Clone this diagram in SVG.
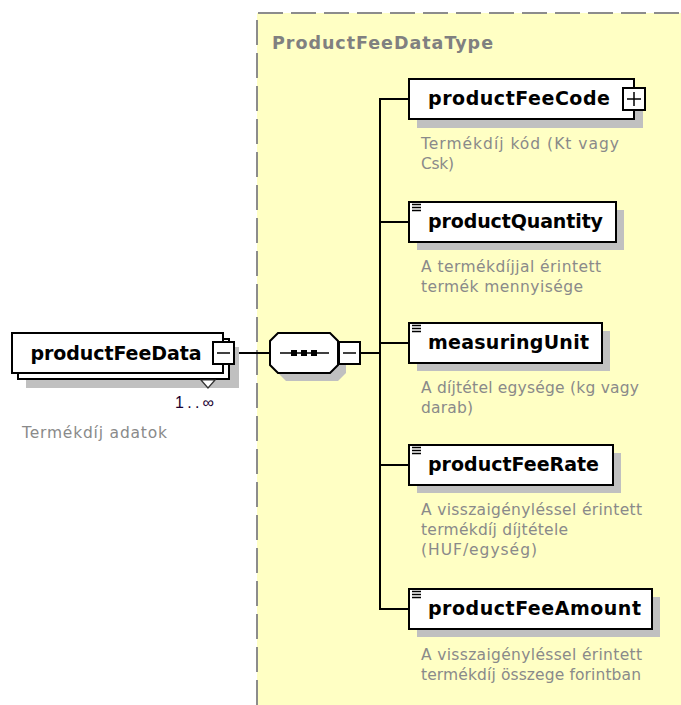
<svg xmlns="http://www.w3.org/2000/svg" width="681" height="705" viewBox="0 0 681 705">
<style>
.box{fill:#fff;stroke:#000;stroke-width:2}
.shadow{fill:#c0c0c0;stroke:none}
.btn{fill:#fff;stroke:#000;stroke-width:2}
.conn{stroke:#000;stroke-width:2;fill:none}
.lbl{font-family:"DejaVu Sans",sans-serif;font-weight:bold;font-size:19px;fill:#000}
.desc{font-family:"DejaVu Sans",sans-serif;font-size:15.5px;fill:#8a8a8a}
.icon{stroke:#000;stroke-width:1.5}
</style>
<rect x="0" y="0" width="681" height="705" fill="#fff"/>
<g id="type-area">
<rect x="257" y="13" width="430" height="700" fill="#ffffc4"/>
<path d="M257 705 V13 H681" fill="none" stroke="#8c8c8c" stroke-width="2" stroke-dasharray="25 8"/>
<text x="272" y="49" font-family="DejaVu Sans,sans-serif" font-weight="bold" font-size="17.5" fill="#808080" textLength="221">ProductFeeDataType</text>
</g>
<g id="connectors">
<line class="conn" x1="235" y1="353" x2="270" y2="353"/>
<line class="conn" x1="360" y1="353" x2="380" y2="353"/>
<line class="conn" x1="380" y1="99" x2="380" y2="610"/>
<line class="conn" x1="379" y1="99" x2="409" y2="99"/>
<line class="conn" x1="379" y1="222" x2="409" y2="222"/>
<line class="conn" x1="379" y1="343" x2="409" y2="343"/>
<line class="conn" x1="379" y1="465" x2="409" y2="465"/>
<line class="conn" x1="379" y1="609" x2="409" y2="609"/>
</g>
<g id="productFeeData">
<rect class="shadow" x="26" y="347" width="213" height="41"/>
<rect class="box" x="18" y="339" width="211" height="40"/>
<rect class="box" x="12" y="333" width="211" height="40"/>
<text class="lbl" x="116" y="360" text-anchor="middle" textLength="171">productFeeData</text>
<rect class="btn" x="213" y="342" width="21" height="22"/>
<line x1="217" y1="353" x2="230" y2="353" stroke="#000" stroke-width="1.5"/>
<polygon points="201,380 215,380 208,388" fill="#fff" stroke="#333" stroke-width="1.2"/>
<text x="175" y="408" font-family="Liberation Sans,sans-serif" font-size="16" fill="#1a0030" textLength="39">1..∞</text>
<text class="desc" x="22" y="438" textLength="145">Termékdíj adatok</text>
</g>
<g id="sequence">
<polygon class="shadow" points="286,341 338,341 346,349 346,373 338,381 286,381 278,373 278,349"/>
<polygon points="278,333 330,333 338,341 338,365 330,373 278,373 270,365 270,341" fill="#fff" stroke="#000" stroke-width="2"/>
<line x1="280" y1="353" x2="329" y2="353" stroke="#000" stroke-width="1.5"/>
<rect x="291" y="350" width="6" height="6" fill="#000"/>
<rect x="301" y="350" width="6" height="6" fill="#000"/>
<rect x="311" y="350" width="6" height="6" fill="#000"/>
<rect class="btn" x="339" y="342" width="21" height="22"/>
<line x1="343" y1="353" x2="356" y2="353" stroke="#000" stroke-width="1.5"/>
</g>
<g id="productFeeCode">
<rect class="shadow" x="417" y="87" width="226" height="41"/>
<rect class="box" x="409" y="79" width="225" height="40"/>
<text class="lbl" x="428" y="105" textLength="182">productFeeCode</text>
<rect class="btn" x="623" y="88" width="22" height="22"/>
<line x1="627" y1="99" x2="641" y2="99" stroke="#000" stroke-width="1.5"/>
<line x1="634" y1="92" x2="634" y2="106" stroke="#000" stroke-width="1.5"/>
<text class="desc" x="421" y="149" textLength="198">Termékdíj kód (Kt vagy</text>
<text class="desc" x="421" y="169" textLength="33">Csk)</text>
</g>
<g id="productQuantity">
<rect class="shadow" x="417" y="210" width="207" height="40"/>
<rect class="box" x="409" y="202" width="207" height="40"/>
<path class="icon" d="M412 204.5h9M412 207.5h9M412 210.5h9"/>
<text class="lbl" x="428" y="228" textLength="175">productQuantity</text>
<text class="desc" x="421" y="272" textLength="180">A termékdíjjal érintett</text>
<text class="desc" x="421" y="292" textLength="162">termék mennyisége</text>
</g>
<g id="measuringUnit">
<rect class="shadow" x="417" y="331" width="193" height="40"/>
<rect class="box" x="409" y="323" width="193" height="40"/>
<path class="icon" d="M412 325.5h9M412 328.5h9M412 331.5h9"/>
<text class="lbl" x="428" y="349" textLength="161">measuringUnit</text>
<text class="desc" x="421" y="393" textLength="218">A díjtétel egysége (kg vagy</text>
<text class="desc" x="421" y="413" textLength="52">darab)</text>
</g>
<g id="productFeeRate">
<rect class="shadow" x="417" y="453" width="204" height="40"/>
<rect class="box" x="409" y="445" width="204" height="40"/>
<path class="icon" d="M412 447.5h9M412 450.5h9M412 453.5h9"/>
<text class="lbl" x="428" y="471" textLength="171">productFeeRate</text>
<text class="desc" x="421" y="515" textLength="221">A visszaigényléssel érintett</text>
<text class="desc" x="421" y="535" textLength="147">termékdíj díjtétele</text>
<text class="desc" x="421" y="555" textLength="116">(HUF/egység)</text>
</g>
<g id="productFeeAmount">
<rect class="shadow" x="417" y="597" width="243" height="40"/>
<rect class="box" x="409" y="589" width="243" height="40"/>
<path class="icon" d="M412 591.5h9M412 594.5h9M412 597.5h9"/>
<text class="lbl" x="428" y="615" textLength="213">productFeeAmount</text>
<text class="desc" x="421" y="660" textLength="221">A visszaigényléssel érintett</text>
<text class="desc" x="421" y="680" textLength="220">termékdíj összege forintban</text>
</g>
</svg>
